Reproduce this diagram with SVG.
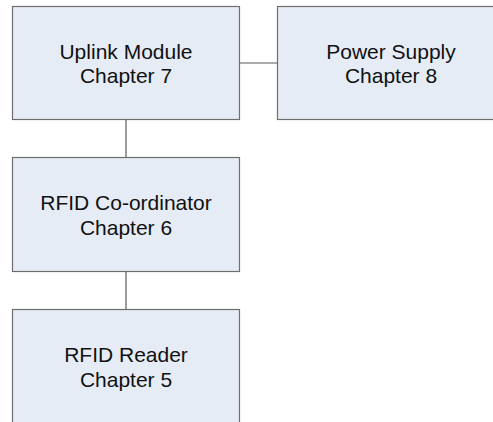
<svg xmlns="http://www.w3.org/2000/svg" width="493" height="422" viewBox="0 0 493 422">
  <style>
    .box { fill: #e6ecf6; stroke: #6e6e6e; stroke-width: 1.2; }
    .label { font-family: "Liberation Sans", Arial, sans-serif; font-size: 21px; fill: #111; text-anchor: middle; }
    .link { stroke: #5a5a5a; stroke-width: 1.2; fill: none; }
  </style>
  <rect width="493" height="422" fill="#ffffff"/>

  <g id="connectors">
    <line class="link" x1="239.5" y1="63" x2="277.5" y2="63"/>
    <line class="link" x1="126" y1="119.5" x2="126" y2="157.5"/>
    <line class="link" x1="126" y1="271.5" x2="126" y2="309.5"/>
  </g>

  <g id="uplink-module">
    <rect class="box" x="12.5" y="6.5" width="227" height="113"/>
    <text class="label" x="126" y="58.5">Uplink Module</text>
    <text class="label" x="126" y="83">Chapter 7</text>
  </g>

  <g id="power-supply">
    <rect class="box" x="277.5" y="6.5" width="227" height="113"/>
    <text class="label" x="391" y="58.5">Power Supply</text>
    <text class="label" x="391" y="83">Chapter 8</text>
  </g>

  <g id="rfid-coordinator">
    <rect class="box" x="12.5" y="157.5" width="227" height="114"/>
    <text class="label" x="126" y="210">RFID Co-ordinator</text>
    <text class="label" x="126" y="234.5">Chapter 6</text>
  </g>

  <g id="rfid-reader">
    <rect class="box" x="12.5" y="309.5" width="227" height="130"/>
    <text class="label" x="126" y="362">RFID Reader</text>
    <text class="label" x="126" y="386.5">Chapter 5</text>
  </g>
</svg>
